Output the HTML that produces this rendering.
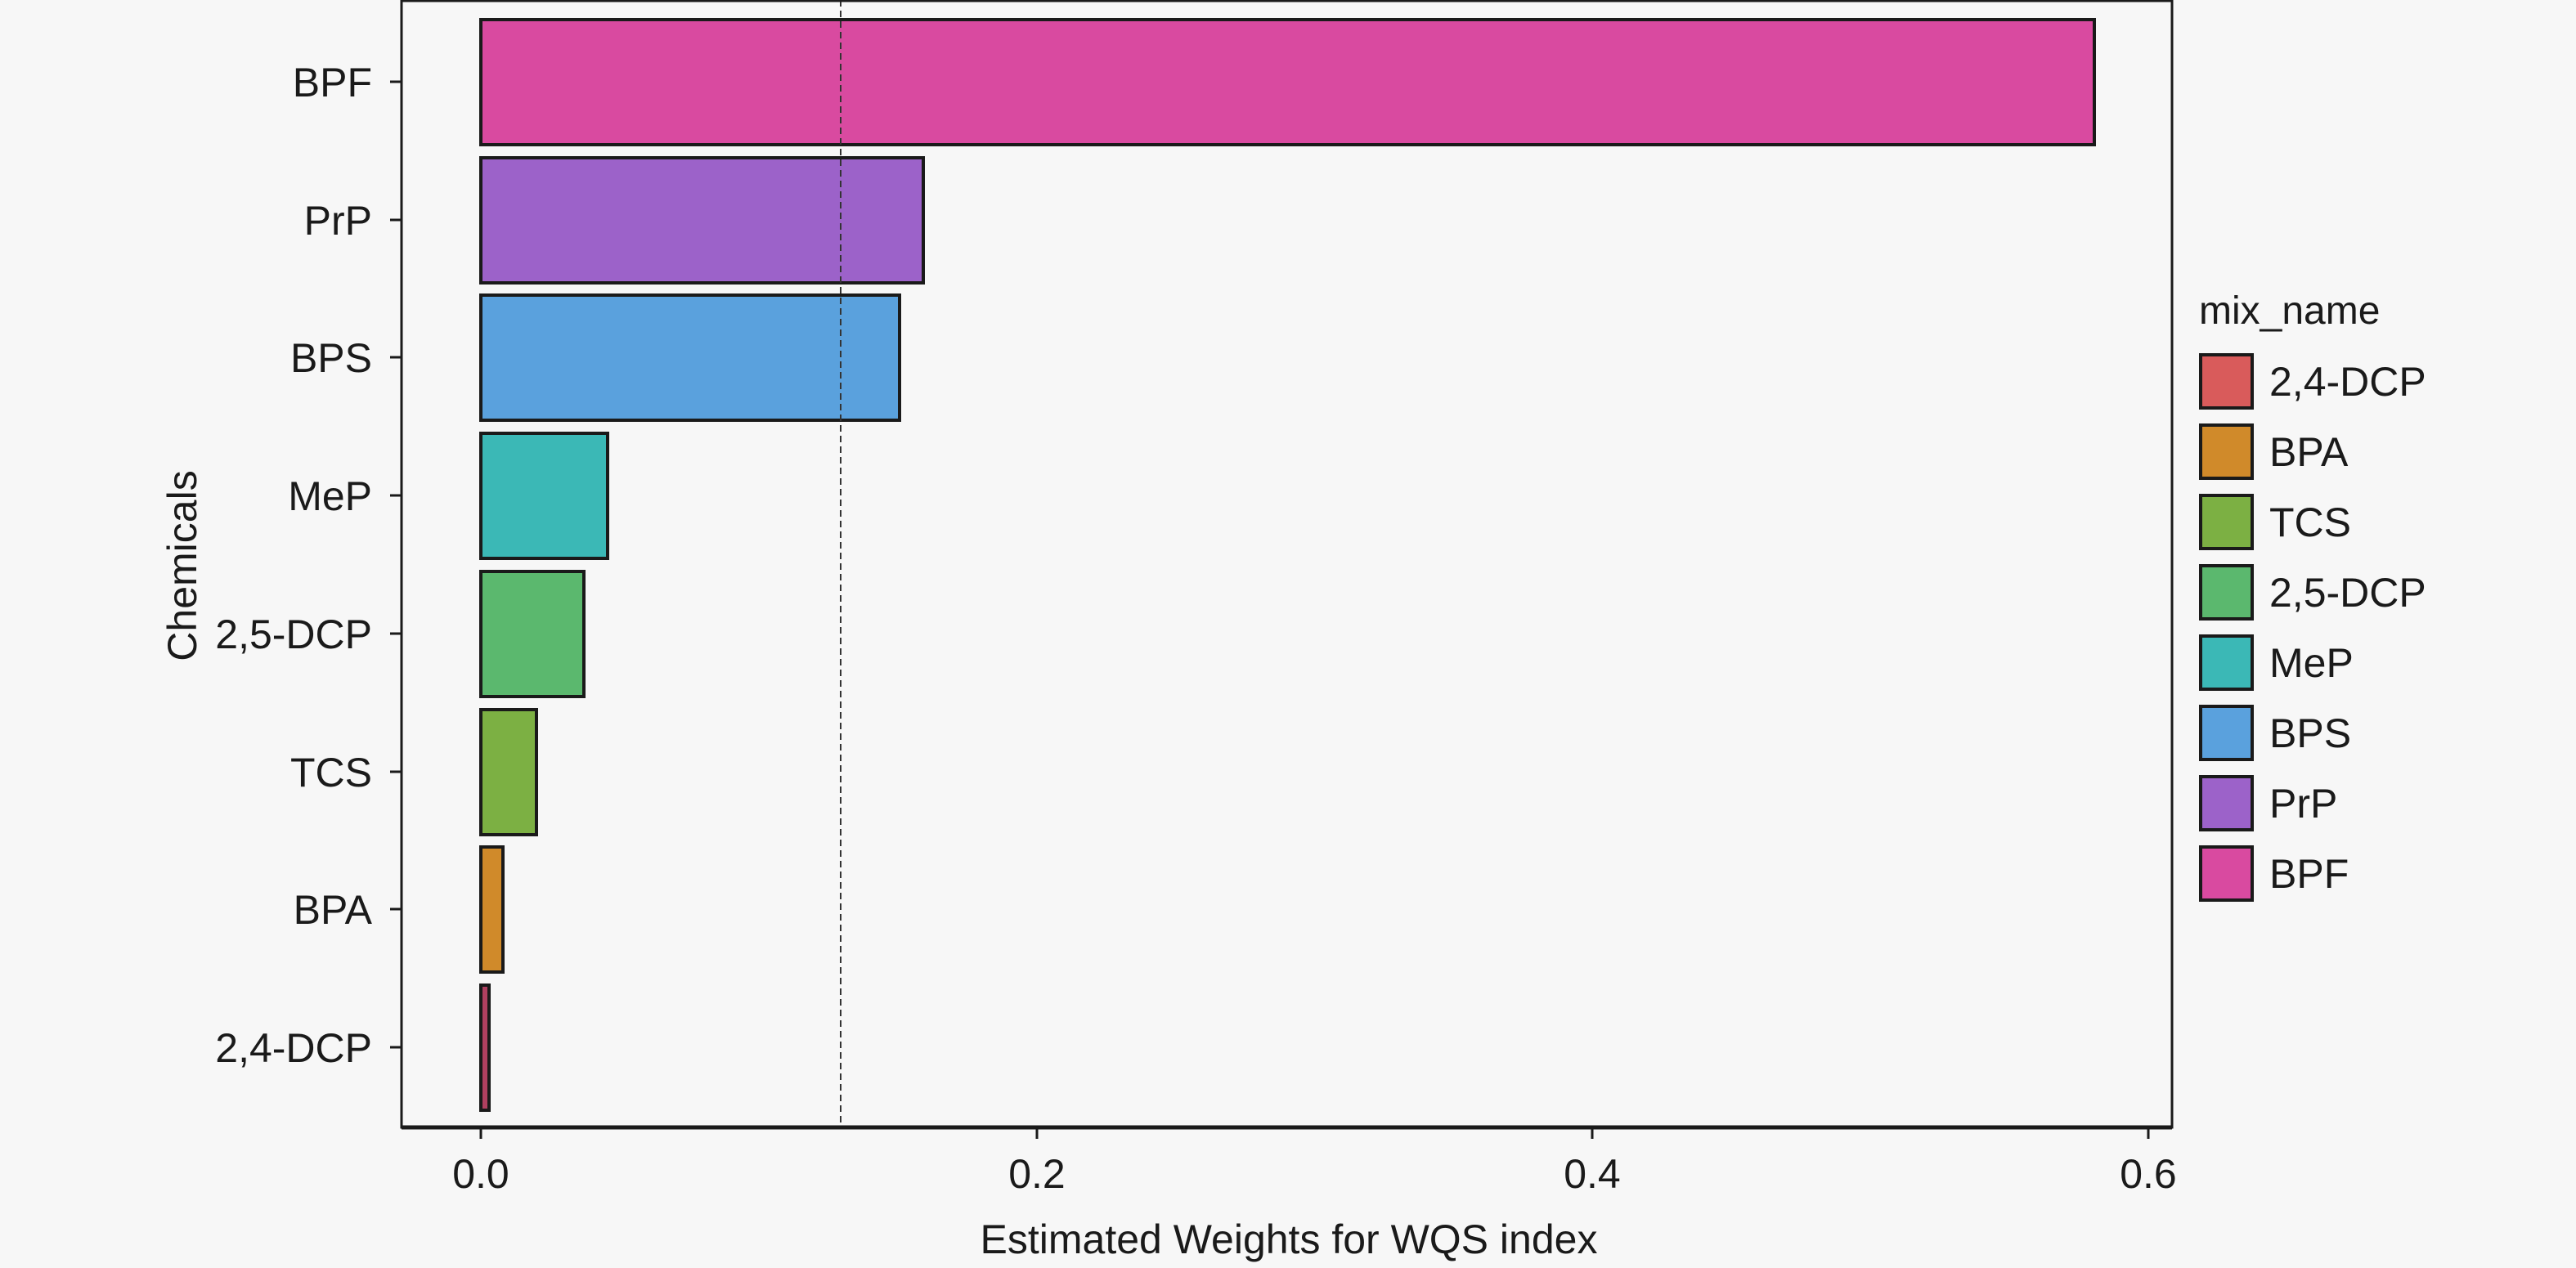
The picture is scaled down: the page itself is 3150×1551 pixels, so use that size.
<!DOCTYPE html>
<html><head><meta charset="utf-8"><style>
html,body{margin:0;padding:0;background:#f7f7f7;}
svg{display:block;}
text{font-family:"Liberation Sans",sans-serif;fill:#1a1a1a;}
</style></head><body>
<svg width="3150" height="1551" viewBox="0 0 3150 1551" xmlns="http://www.w3.org/2000/svg">
<rect width="3150" height="1551" fill="#f7f7f7"/>
<!-- bars -->
<g stroke="#1a1a1a" stroke-width="4">
<rect x="588" y="24" width="1973" height="153" fill="#d94aa0"/>
<rect x="588" y="193" width="541" height="153" fill="#9c62c9"/>
<rect x="588" y="361" width="512" height="153" fill="#5aa1dd"/>
<rect x="588" y="530" width="155" height="153" fill="#3bb8b6"/>
<rect x="588" y="699" width="126" height="153" fill="#5bb86e"/>
<rect x="588" y="868" width="68" height="153" fill="#7cb043"/>
<rect x="588" y="1036" width="27" height="153" fill="#d08a2a"/>
<rect x="588" y="1205" width="10" height="153" fill="#b04060"/>
</g>
<line x1="1028" y1="0" x2="1028" y2="1379" stroke="#333" stroke-width="2" stroke-dasharray="8,5"/>
<!-- plot frame -->
<rect x="491" y="1" width="2165" height="1378" fill="none" stroke="#1a1a1a" stroke-width="3"/>
<line x1="491" y1="1379" x2="2656" y2="1379" stroke="#1a1a1a" stroke-width="5"/>
<!-- y ticks -->
<g stroke="#1a1a1a" stroke-width="3">
<line x1="477" y1="100" x2="491" y2="100"/><line x1="477" y1="269" x2="491" y2="269"/>
<line x1="477" y1="437" x2="491" y2="437"/><line x1="477" y1="606" x2="491" y2="606"/>
<line x1="477" y1="775" x2="491" y2="775"/><line x1="477" y1="944" x2="491" y2="944"/>
<line x1="477" y1="1112" x2="491" y2="1112"/><line x1="477" y1="1281" x2="491" y2="1281"/>
<line x1="588" y1="1379" x2="588" y2="1393"/><line x1="1268" y1="1379" x2="1268" y2="1393"/>
<line x1="1947" y1="1379" x2="1947" y2="1393"/><line x1="2627" y1="1379" x2="2627" y2="1393"/>
</g>
<g font-size="50" text-anchor="end">
<text x="455" y="118">BPF</text>
<text x="455" y="287">PrP</text>
<text x="455" y="455">BPS</text>
<text x="455" y="624">MeP</text>
<text x="455" y="793">2,5-DCP</text>
<text x="455" y="962">TCS</text>
<text x="455" y="1130">BPA</text>
<text x="455" y="1299">2,4-DCP</text>
</g>
<g font-size="50" text-anchor="middle">
<text x="588" y="1453">0.0</text>
<text x="1268" y="1453">0.2</text>
<text x="1947" y="1453">0.4</text>
<text x="2627" y="1453">0.6</text>
<text x="1576" y="1533">Estimated Weights for WQS index</text>
<text transform="translate(240,692) rotate(-90)">Chemicals</text>
</g>
<!-- legend -->
<text x="2689" y="396" font-size="48">mix_name</text>
<g stroke="#1a1a1a" stroke-width="4">
<rect x="2691" y="434" width="63" height="65" fill="#d95b5b"/>
<rect x="2691" y="520" width="63" height="65" fill="#d08a2a"/>
<rect x="2691" y="606" width="63" height="65" fill="#7cb043"/>
<rect x="2691" y="692" width="63" height="65" fill="#5bb86e"/>
<rect x="2691" y="778" width="63" height="65" fill="#3bb8b6"/>
<rect x="2691" y="864" width="63" height="65" fill="#5aa1dd"/>
<rect x="2691" y="950" width="63" height="65" fill="#9c62c9"/>
<rect x="2691" y="1036" width="63" height="65" fill="#d94aa0"/>
</g>
<g font-size="50">
<text x="2775" y="484">2,4-DCP</text>
<text x="2775" y="570">BPA</text>
<text x="2775" y="656">TCS</text>
<text x="2775" y="742">2,5-DCP</text>
<text x="2775" y="828">MeP</text>
<text x="2775" y="914">BPS</text>
<text x="2775" y="1000">PrP</text>
<text x="2775" y="1086">BPF</text>
</g>
</svg>
</body></html>
